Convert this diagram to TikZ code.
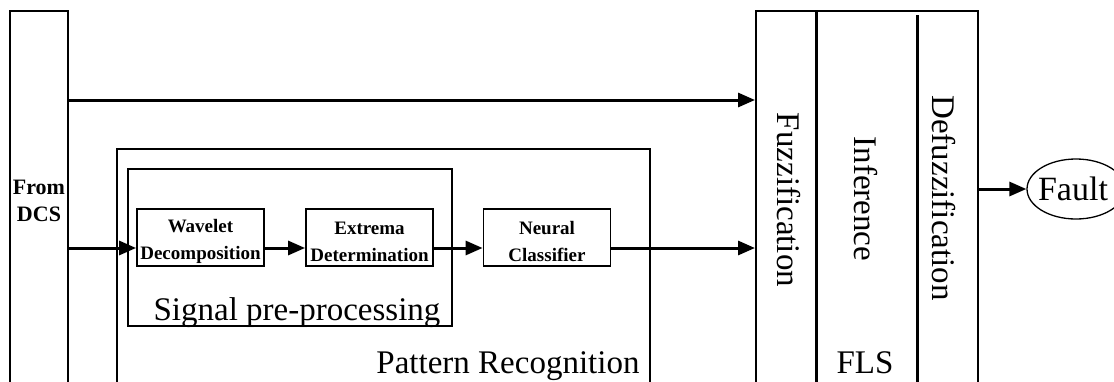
\documentclass[tikz,border=0pt]{standalone}
\usepackage{fontspec}
\setmainfont{Liberation Serif}
\usetikzlibrary{arrows.meta,calc,fit,shapes.geometric}

\begin{document}
\begin{tikzpicture}[x=1pt,y=-1pt,
  frame/.style={draw,line width=2pt,inner sep=0pt},
  stage/.style={draw,line width=1.8pt,inner sep=0pt,minimum width=127pt,minimum height=57pt},
  small/.style={font=\bfseries\fontsize{19}{27}\selectfont,align=center,inner sep=0pt},
  big/.style={font=\fontsize{33}{38}\selectfont,inner sep=0pt},
  vtext/.style={big,rotate=-90},
  arr/.style={line width=3pt,-{Triangle[length=17pt,width=14pt]}},
  divider/.style={line width=3pt}]
\useasboundingbox (0,0) rectangle (1114,381);
\clip (0,0) rectangle (1114,381);

% input column
\node[frame,fit={(10,11) (68,400)}] (dcs) {};
\node[small,font=\bfseries\fontsize{22}{27}\selectfont] (dcslabel) at (39,201) {From\\DCS};

% pattern recognition block
\node[frame,fit={(117,149) (650,400)}] (pr) {};
\node[big,anchor=base] (prlabel) at (508,373) {Pattern Recognition};

% signal pre-processing block
\node[frame,line width=1.8pt,fit={(128,169) (452,326)}] (spp) {};
\node[big,anchor=base] (spplabel) at (297,320) {Signal pre-processing};

% processing stages
\node[stage] (wav) at (200.5,237.5) {};
\node[small] (wavlabel) at ($(wav.center)+(0,4)$) {Wavelet\\Decomposition};
\node[stage] (ext) at (369.5,237.5) {};
\node[small] (extlabel) at ($(ext.center)+(0,4)$) {Extrema\\Determination};
\node[stage] (neu) at (547,237.5) {};
\node[small] (neulabel) at ($(neu.center)+(0,4)$) {Neural\\Classifier};

% fuzzy logic system
\node[frame,fit={(756,11) (978,400)}] (fls) {};
\coordinate (d1top) at (816,11);
\coordinate (d2top) at (917,15);
\draw[divider] (d1top) -- (d1top |- fls.south);
\draw[divider] (d2top) -- (d2top |- fls.south);
\node[vtext] (fuzz) at (789,200) {Fuzzification};
\node[vtext] (infer) at (866,199) {Inference};
\node[vtext] (defuzz) at (944,198) {Defuzzification};
\node[big,anchor=base] (flslabel) at (865,373) {FLS};

% output
\node[draw,ellipse,line width=1.3pt,minimum width=98pt,minimum height=60pt,inner sep=0pt] (fault) at (1076,189) {};
\node[big,font=\fontsize{34}{38}\selectfont] (faultlabel) at (1073,189) {Fault};

% signal flow
\coordinate (ytop) at (0,100);
\coordinate (ymain) at (0,248);
\draw[arr] (dcs.east |- ytop) -- (fls.west |- ytop);
\draw[arr] (dcs.east |- ymain) -- (wav.west |- ymain);
\draw[arr] (wav.east |- ymain) -- (ext.west |- ymain);
\draw[arr] (ext.east |- ymain) -- (neu.west |- ymain);
\draw[arr] (neu.east |- ymain) -- (fls.west |- ymain);
\draw[arr] (fls.east |- fault.west) -- (fault.west);
\end{tikzpicture}
\end{document}
